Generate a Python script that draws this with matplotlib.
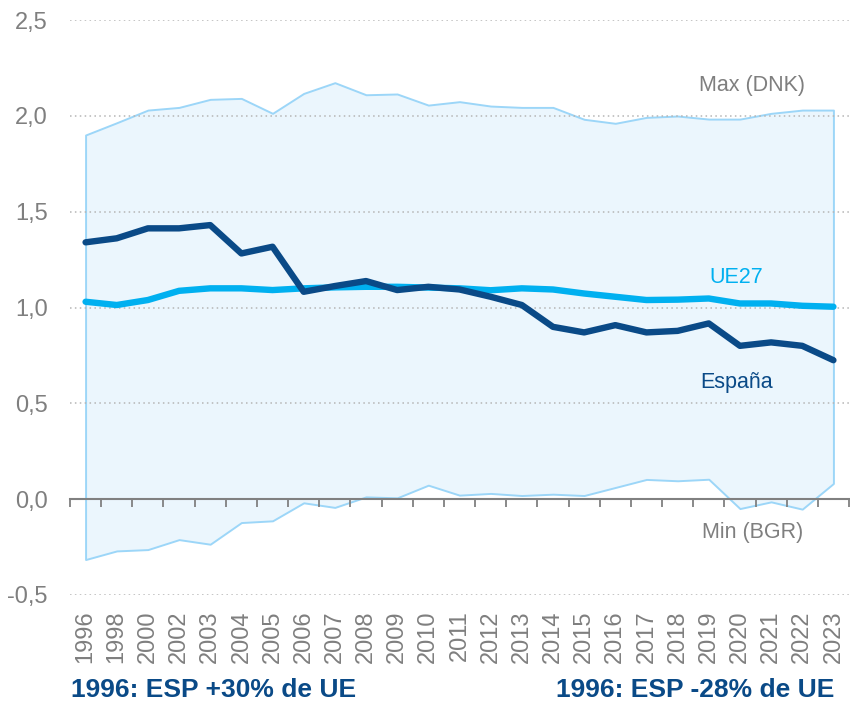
import numpy as np
import matplotlib
matplotlib.use("Agg")
import matplotlib.pyplot as plt

plt.rcParams['font.family'] = ['Liberation Sans', 'DejaVu Sans']

years = ['1996', '1998', '2000', '2002', '2003', '2004', '2005', '2006', '2007', '2008',
         '2009', '2010', '2011', '2012', '2013', '2014', '2015', '2016', '2017', '2018',
         '2019', '2020', '2021', '2022', '2023']

espana = [1.340, 1.361, 1.413, 1.413, 1.430, 1.282, 1.317, 1.082, 1.112, 1.138,
          1.091, 1.108, 1.094, 1.056, 1.013, 0.899, 0.870, 0.908, 0.870, 0.878,
          0.917, 0.800, 0.818, 0.800, 0.725]

ue27 = [1.030, 1.013, 1.039, 1.087, 1.100, 1.100, 1.091, 1.100, 1.105, 1.108,
        1.108, 1.104, 1.100, 1.090, 1.100, 1.094, 1.073, 1.056, 1.039, 1.041,
        1.047, 1.021, 1.021, 1.009, 1.004]

max_dnk = [1.900, 1.964, 2.030, 2.044, 2.086, 2.091, 2.013, 2.117, 2.173, 2.110,
           2.114, 2.056, 2.074, 2.051, 2.044, 2.044, 1.982, 1.961, 1.992, 1.999,
           1.983, 1.983, 2.013, 2.030, 2.030]

min_bgr = [-0.315, -0.270, -0.263, -0.211, -0.235, -0.122, -0.113, -0.019, -0.043, 0.012,
           0.007, 0.073, 0.021, 0.030, 0.019, 0.026, 0.019, 0.061, 0.103, 0.096,
           0.104, -0.049, -0.014, -0.052, 0.082]

yticks = [-0.5, 0.0, 0.5, 1.0, 1.5, 2.0, 2.5]
ytick_labels = ['-0,5', '0,0', '0,5', '1,0', '1,5', '2,0', '2,5']

GRAY = '#7F7F7F'
DARK = '#0A4A87'
CYAN = '#00B0F0'

fig = plt.figure(figsize=(8.5, 7.02), dpi=100)
ax = fig.add_axes([70/850, 1 - 595/702, (849 - 70)/850, (595 - 20)/702])

x = np.arange(len(years))

ax.fill_between(x, min_bgr, max_dnk, facecolor='#EBF6FD', edgecolor='#9CD6F8',
                linewidth=1.4, zorder=1)
ax.plot(x, ue27, color=CYAN, lw=4.6, solid_capstyle='round', solid_joinstyle='round', zorder=4)
ax.plot(x, espana, color=DARK, lw=4.6, solid_capstyle='round', solid_joinstyle='round', zorder=5)

ax.set_xlim(-0.5, len(years) - 0.5)
ax.set_ylim(-0.5, 2.5)

ax.set_yticks(yticks)
ax.set_yticklabels(ytick_labels)
ax.yaxis.grid(True, linestyle=(0, (1, 2.2)), color='#B5B5B5', linewidth=1.1)
ax.set_axisbelow(False)
for gl, v in zip(ax.yaxis.get_gridlines(), yticks):
    gl.set_zorder(2)
    if v == 0.0:
        gl.set_visible(False)

ax.set_xticks(x)
ax.set_xticklabels(years, rotation=90, va='top', ha='center')
ax.tick_params(axis='x', length=0, pad=11, labelsize=17, labelcolor=GRAY)
ax.tick_params(axis='y', length=0, pad=16, labelsize=17, labelcolor=GRAY)

for s in ax.spines.values():
    s.set_visible(False)

# axis line at zero with tick marks between categories
sec = ax.secondary_xaxis(0, transform=ax.transData)
sec.set_xticks(np.arange(-0.5, len(years), 1.0))
sec.tick_params(axis='x', direction='out', length=6, width=1.3, color='#808080',
                labelbottom=False, labeltop=False)
for s in sec.spines.values():
    s.set_color('#808080')
    s.set_linewidth(1.5)
sec.set_zorder(3)

ax.text(21.4, 2.16, 'Max (DNK)', color=GRAY, fontsize=15.5, ha='center', va='center')
ax.text(20.87, 1.159, 'UE27', color=CYAN, fontsize=15.5, ha='center', va='center')
ax.text(20.9, 0.611, 'España', color=DARK, fontsize=15.5, ha='center', va='center')
ax.text(21.42, -0.172, 'Min (BGR)', color=GRAY, fontsize=15.5, ha='center', va='center')

fig.text(71/850, 1 - 690/702, '1996: ESP +30% de UE', color=DARK, fontsize=19,
         fontweight='bold', ha='left', va='center')
fig.text(834/850, 1 - 690/702, '1996: ESP -28% de UE', color=DARK, fontsize=19,
         fontweight='bold', ha='right', va='center')

fig.savefig('out.png', dpi=100)
